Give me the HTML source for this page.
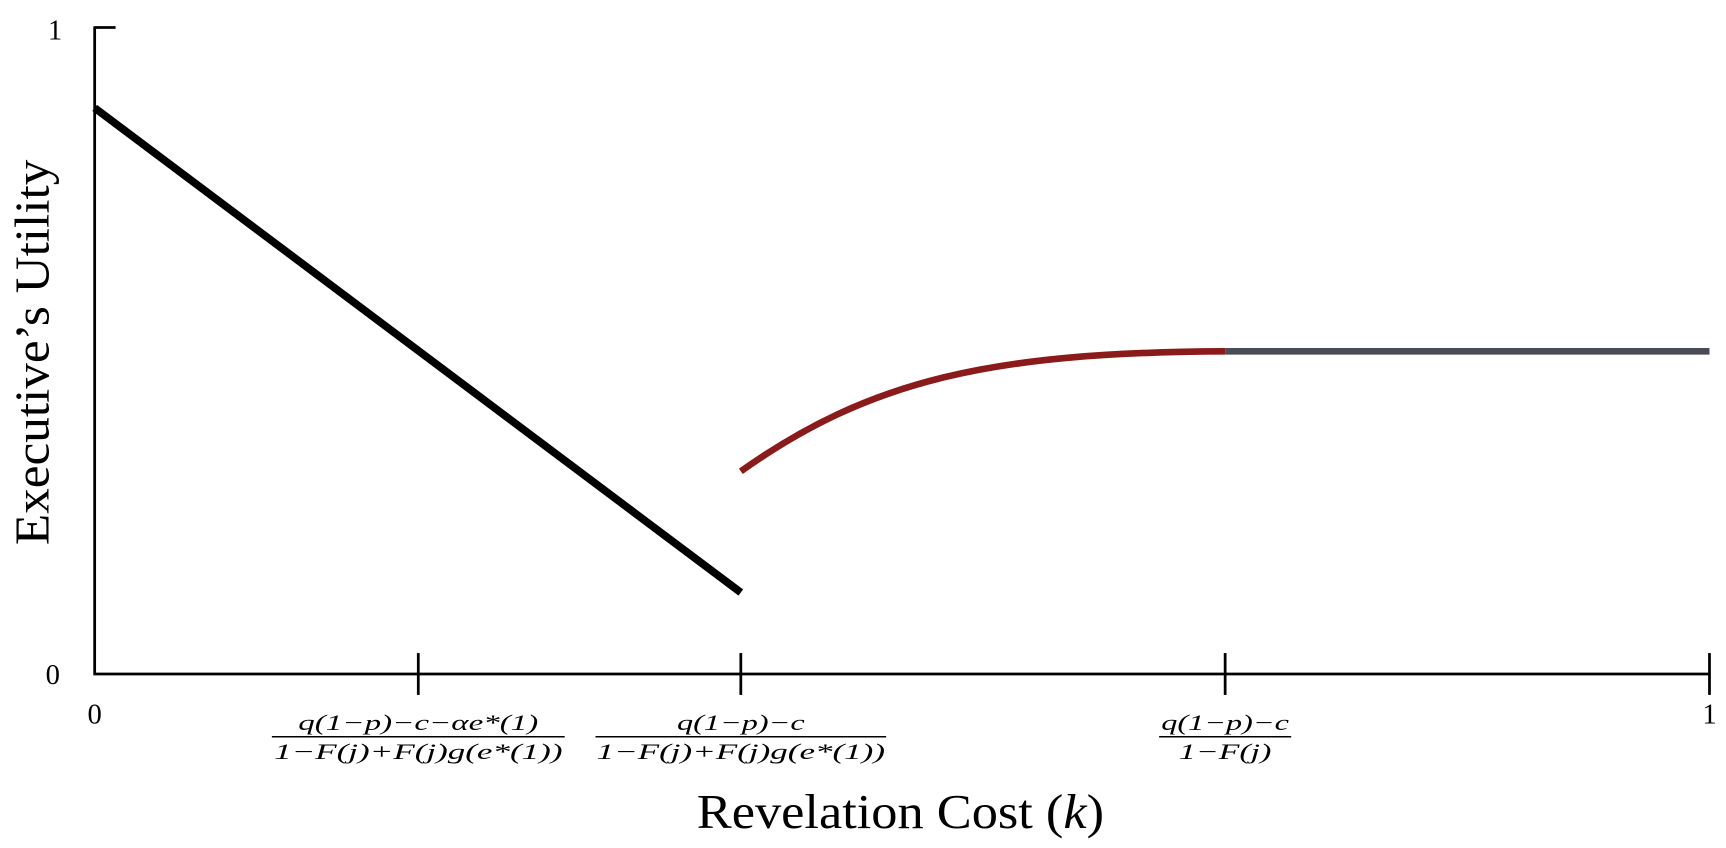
<!DOCTYPE html>
<html><head><meta charset="utf-8"><style>
html,body{margin:0;padding:0;background:#fff;}
svg{display:block;}
text{font-family:"Liberation Serif",serif;fill:#000;}
</style></head><body>
<svg width="1726" height="848" viewBox="0 0 1568 770" preserveAspectRatio="none">
<g stroke="#000" stroke-width="2.5" fill="none">
<line x1="86" y1="24" x2="86" y2="613"/>
<line x1="86" y1="25" x2="105" y2="25"/>
<line x1="85" y1="612" x2="1554" y2="612"/>
<line x1="380" y1="593" x2="380" y2="631"/>
<line x1="673" y1="593" x2="673" y2="631"/>
<line x1="1113" y1="593" x2="1113" y2="631"/>
<line x1="1553" y1="593" x2="1553" y2="631"/>
</g>
<line x1="86" y1="98" x2="673" y2="538" stroke="#000" stroke-width="7"/>
<path d="M673,428 C790,345 900,320 1113,319" stroke="#8b1a1a" stroke-width="6" fill="none"/>
<line x1="1113" y1="319" x2="1553" y2="319" stroke="#4a4d57" stroke-width="6"/>
<text x="50" y="36" font-size="26" text-anchor="middle">1</text>
<text x="48" y="621" font-size="26" text-anchor="middle">0</text>
<text x="86" y="657" font-size="26" text-anchor="middle">0</text>
<text x="1553" y="657" font-size="26" text-anchor="middle">1</text>
<g font-size="20" text-anchor="middle" font-style="italic">
<text x="380" y="663" textLength="218" lengthAdjust="spacingAndGlyphs">q(1−p)−c−αe*(1)</text>
<line x1="247" y1="669" x2="513" y2="669" stroke="#000" stroke-width="1.3"/>
<text x="380" y="689" textLength="262" lengthAdjust="spacingAndGlyphs">1−F(j)+F(j)g(e*(1))</text>
<text x="673" y="663" textLength="116" lengthAdjust="spacingAndGlyphs">q(1−p)−c</text>
<line x1="541" y1="669" x2="805" y2="669" stroke="#000" stroke-width="1.3"/>
<text x="673" y="689" textLength="262" lengthAdjust="spacingAndGlyphs">1−F(j)+F(j)g(e*(1))</text>
<text x="1113" y="663" textLength="116" lengthAdjust="spacingAndGlyphs">q(1−p)−c</text>
<line x1="1053" y1="669" x2="1173" y2="669" stroke="#000" stroke-width="1.3"/>
<text x="1113" y="689" textLength="84" lengthAdjust="spacingAndGlyphs">1−F(j)</text>
</g>
<text x="818" y="752" font-size="44" text-anchor="middle" textLength="370" lengthAdjust="spacingAndGlyphs">Revelation Cost (<tspan font-style="italic">k</tspan>)</text>
<text transform="translate(44,320) rotate(-90)" font-size="44" text-anchor="middle" textLength="350" lengthAdjust="spacingAndGlyphs">Executive’s Utility</text>
</svg>
</body></html>
